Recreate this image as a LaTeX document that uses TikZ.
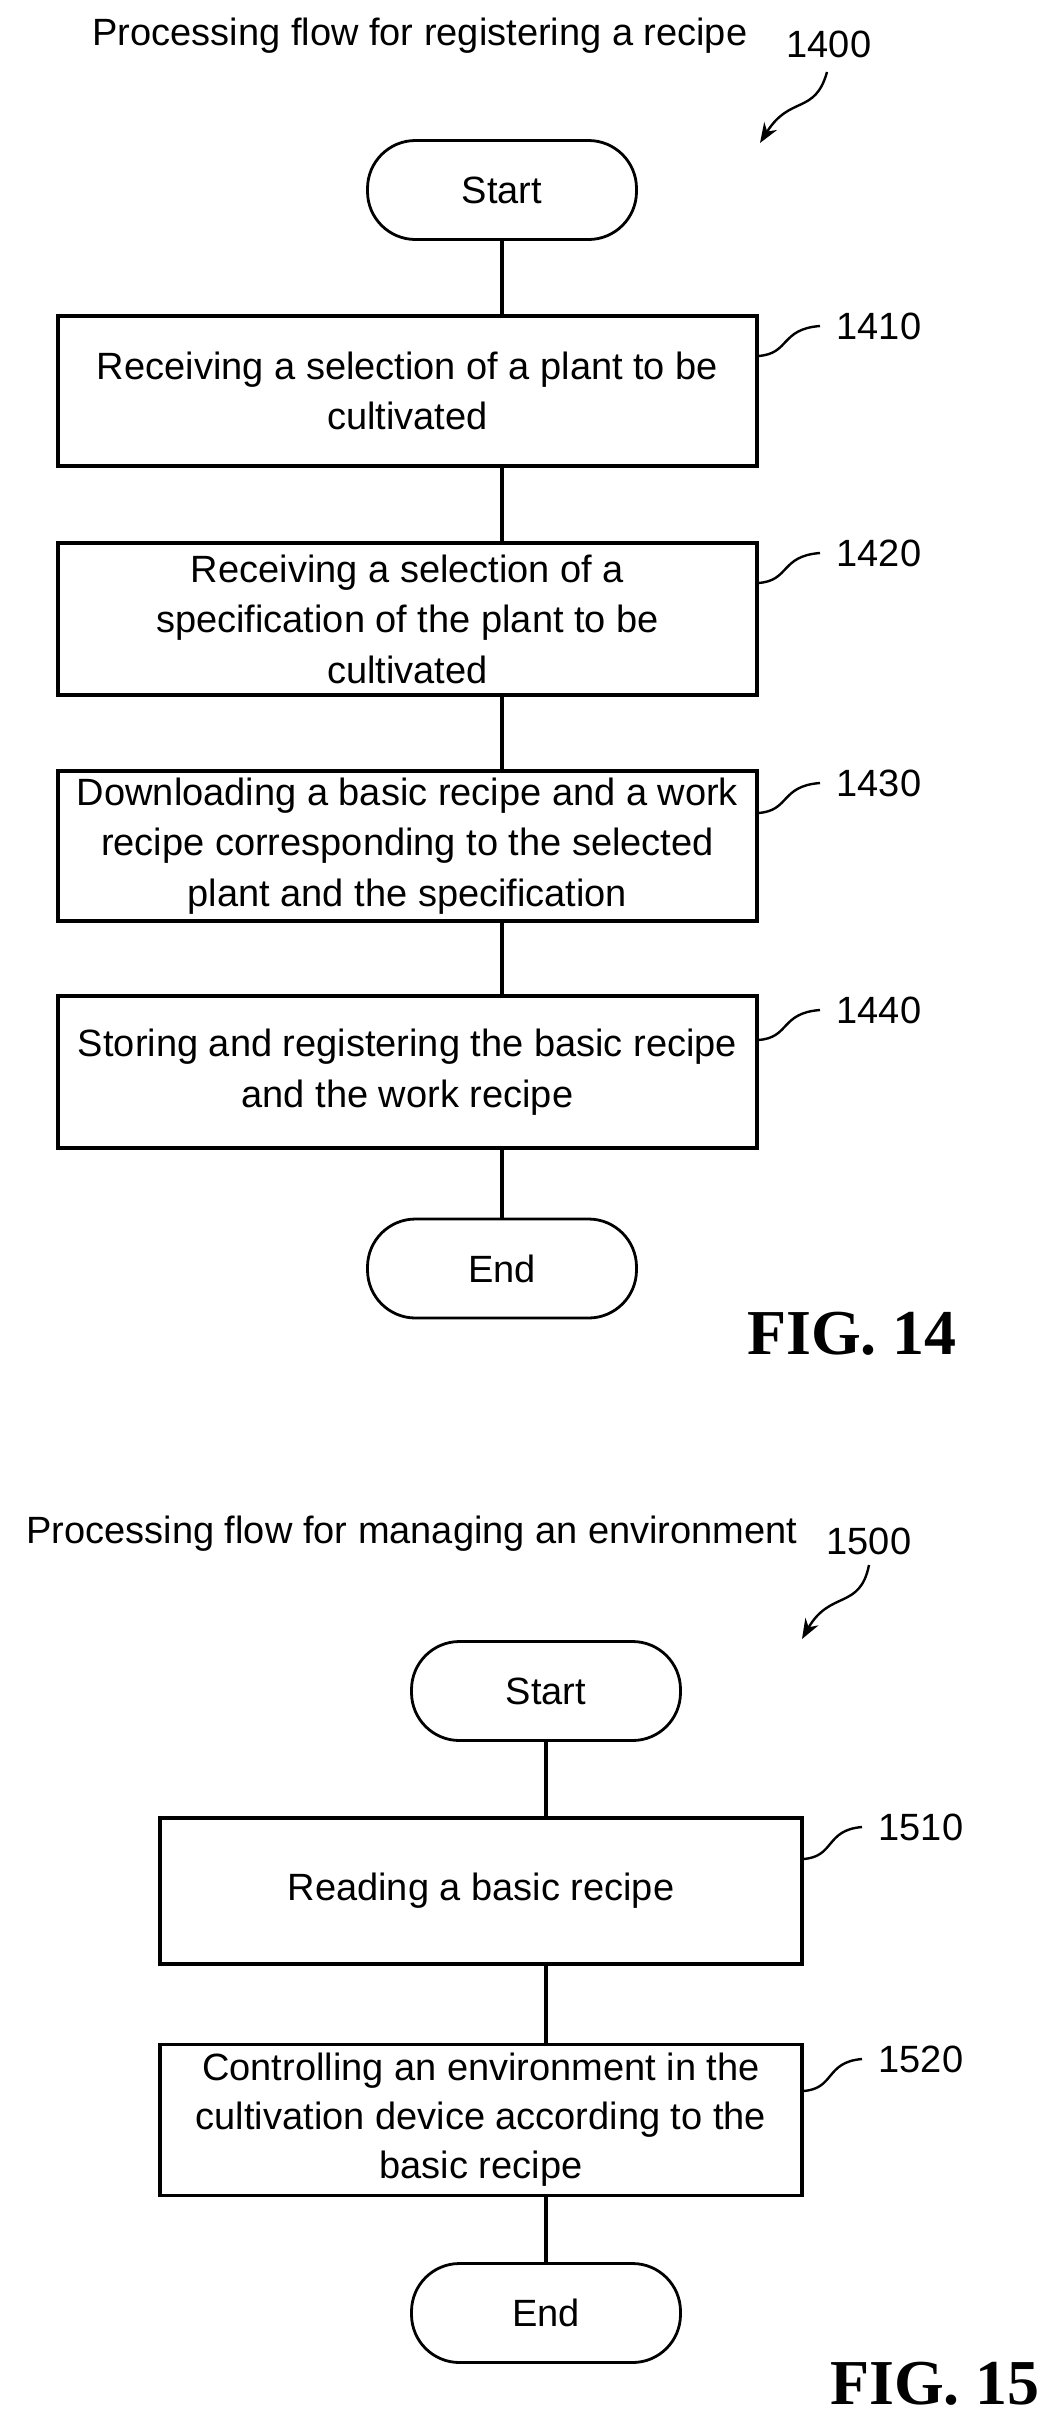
\documentclass[tikz,border=0pt]{standalone}
\usepackage{fontspec}
\setmainfont{Liberation Sans}
\newfontfamily\figfont{Liberation Serif}
\usetikzlibrary{arrows.meta}
\begin{document}
\begin{tikzpicture}[x=1pt,y=-1pt,
  box/.style={draw,line width=3.2pt,minimum width=699pt,align=center,font=\fontsize{38}{50.5}\selectfont,inner sep=0pt},
  term/.style={draw,line width=2.8pt,rounded corners=48pt,minimum width=269pt,minimum height=99pt,font=\fontsize{38}{44}\selectfont},
  lbl/.style={font=\fontsize{38}{44}\selectfont},
  fig/.style={font=\figfont\bfseries\fontsize{64}{66}\selectfont},
  conn/.style={line width=3.2pt},
  sq/.style={line width=2.4pt}]
\useasboundingbox (0,0) rectangle (1061,2431);
% FIG 14
\node[lbl] (t14) at (420,36) {Processing flow for registering a recipe};
\node[lbl] (n1400) at (829,44) {1400};
\coordinate (a1400s) at (827,72);
\coordinate (a1400e) at (760,143);
\draw[sq,-{Stealth[length=20pt,width=15pt]}] (a1400s) .. controls (815,115) and (790,95) .. (a1400e);
\node[term] (s14) at (502,190) {Start};
\node[box,minimum height=150pt] (b1410) at (407.5,391) {Receiving a selection of a plant to be\\cultivated};
\node[box,minimum height=152pt] (b1420) at (407.5,619) {Receiving a selection of a\\specification of the plant to be\\cultivated};
\node[box,minimum height=150pt] (b1430) at (407.5,846) {Downloading a basic recipe and a work\\recipe corresponding to the selected\\plant and the specification};
\node[box,minimum height=152pt] (b1440) at (407.5,1072) {Storing and registering the basic recipe\\and the work recipe};
\node[term] (e14) at (502,1268.5) {End};
\draw[conn] (s14) -- (s14 |- b1410.north);
\draw[conn] (s14 |- b1410.south) -- (s14 |- b1420.north);
\draw[conn] (s14 |- b1420.south) -- (s14 |- b1430.north);
\draw[conn] (s14 |- b1430.south) -- (s14 |- b1440.north);
\draw[conn] (s14 |- b1440.south) -- (e14);
\foreach \t/\y in {1410/326,1420/553,1430/783,1440/1010}{
  \node[lbl] (l\t) at (879,\y) {\t};
  \draw[sq] (758,\y+30) .. controls (790,\y+28) and (780,\y+3) .. (820,\y);
}
\node[fig] (f14) at (852,1334) {FIG. 14};
% FIG 15
\node[lbl] (t15) at (412,1534) {Processing flow for managing an environment};
\node[lbl] (n1500) at (869,1541) {1500};
\coordinate (a1500s) at (869,1565);
\coordinate (a1500e) at (802,1639);
\draw[sq,-{Stealth[length=20pt,width=15pt]}] (a1500s) .. controls (860,1610) and (830,1590) .. (a1500e);
\node[term] (s15) at (546,1691) {Start};
\node[box,minimum width=642pt,minimum height=146pt] (b1510) at (481,1891) {Reading a basic recipe};
\node[box,minimum width=642pt,minimum height=151pt,font=\fontsize{38}{49}\selectfont] (b1520) at (481,2120) {Controlling an environment in the\\cultivation device according to the\\basic recipe};
\node[term] (e15) at (546,2313) {End};
\draw[conn] (s15) -- (s15 |- b1510.north);
\draw[conn] (s15 |- b1510.south) -- (s15 |- b1520.north);
\draw[conn] (s15 |- b1520.south) -- (e15);
\foreach \t/\y in {1510/1827,1520/2059}{
  \node[lbl] (l\t) at (921,\y) {\t};
  \draw[sq] (803,\y+32) .. controls (835,\y+30) and (825,\y+3) .. (862,\y);
}
\node[fig] (f15) at (935,2384) {FIG. 15};
\end{tikzpicture}
\end{document}
